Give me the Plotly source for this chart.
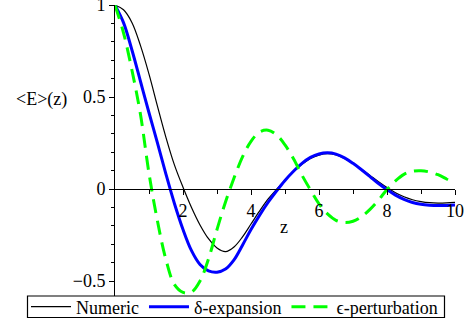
import plotly.graph_objects as go

z = [0, 0.25, 0.5, 0.75, 1.0, 1.25, 1.5, 1.75, 2.0, 2.25, 2.5, 2.75, 3.0, 3.25, 3.5, 3.75,
     4.0, 4.25, 4.5, 4.75, 5.0, 5.25, 5.5, 5.75, 6.0, 6.25, 6.5, 6.75, 7.0, 7.25, 7.5, 7.75,
     8.0, 8.25, 8.5, 8.75, 9.0, 9.25, 9.5, 9.75, 10.0]

numeric = [1.0, 0.975, 0.905, 0.78, 0.625, 0.45, 0.28, 0.13, 0.01, -0.10, -0.195, -0.27,
           -0.32, -0.34, -0.315, -0.26, -0.19, -0.12, -0.055, -0.002, 0.048, 0.095, 0.135, 0.167,
           0.185, 0.192, 0.186, 0.167, 0.14, 0.108, 0.074, 0.04, 0.008, -0.02, -0.042, -0.058,
           -0.068, -0.074, -0.076, -0.075, -0.072]

delta_exp = [1.0, 0.905, 0.755, 0.585, 0.415, 0.25, 0.08, -0.08, -0.22, -0.335, -0.41, -0.445,
             -0.452, -0.435, -0.385, -0.305, -0.22, -0.143, -0.073, -0.011, 0.047, 0.097, 0.14,
             0.172, 0.191, 0.197, 0.19, 0.17, 0.14, 0.105, 0.068, 0.03, -0.003, -0.033, -0.056,
             -0.073, -0.083, -0.088, -0.09, -0.089, -0.087]

eps_pert = [1.0, 0.85, 0.645, 0.405, 0.085, -0.175, -0.385, -0.52, -0.562, -0.56, -0.50, -0.38,
            -0.22, -0.07, 0.06, 0.175, 0.26, 0.31, 0.32, 0.295, 0.24, 0.165, 0.075, -0.005,
            -0.08, -0.135, -0.17, -0.182, -0.175, -0.15, -0.11, -0.06, -0.002, 0.045, 0.08,
            0.097, 0.1, 0.093, 0.078, 0.055, 0.03]

names = ["Numeric", "δ-expansion", "ϵ-perturbation"]
x_ticks = [2, 4, 6, 8, 10]
x_minor = [1, 3, 5, 7, 9]
x_range = [0, 10]
y_range = [-0.5815, 1.001]

FONT = '"Liberation Serif", "Times New Roman", Times, serif'
PLOT_L, PLOT_W, PLOT_B, PLOT_H = 115, 340, 296, 291


def px_x(p):
    return (p - PLOT_L) / PLOT_W


def px_y(p):
    return (PLOT_B - p) / PLOT_H


fig = go.Figure()
fig.add_trace(go.Scatter(x=z, y=numeric, name=names[0], mode="lines",
                         line=dict(color="black", width=1.2, shape="spline")))
fig.add_trace(go.Scatter(x=z, y=delta_exp, name=names[1], mode="lines",
                         line=dict(color="#0000ff", width=3, shape="spline")))
fig.add_trace(go.Scatter(x=z, y=eps_pert, name=names[2], mode="lines",
                         line=dict(color="#00ff00", width=3, shape="spline", dash="14px,8px")))

zero_pos = -y_range[0] / (y_range[1] - y_range[0])

fig.update_layout(
    width=465, height=329, autosize=False,
    margin=dict(l=115, r=10, t=5, b=33, pad=0, autoexpand=False),
    plot_bgcolor="white", paper_bgcolor="white",
    font=dict(family=FONT, size=18, color="black"),
    showlegend=True,
    legend=dict(orientation="h", x=px_x(26), xanchor="left", y=px_y(307), yanchor="middle",
                borderwidth=0, bgcolor="rgba(0,0,0,0)",
                font=dict(family=FONT, size=18, color="black"), itemwidth=40,
                tracegroupgap=0),
    xaxis=dict(range=x_range, showline=True, linecolor="black", linewidth=1,
               ticks="outside", ticklen=5, tickcolor="black", tickvals=x_ticks,
               minor=dict(tickvals=x_minor, ticks="outside", ticklen=4, tickcolor="black", showgrid=False),
               showgrid=False, zeroline=False, anchor="free", position=zero_pos,
               ticklabeloverflow="allow",
               tickfont=dict(family=FONT, size=18, color="black")),
    yaxis=dict(range=y_range, showline=True, linecolor="black", linewidth=1,
               ticks="outside", ticklen=5, tickcolor="black", dtick=0.5, tick0=0,
               minor=dict(dtick=0.1, ticks="outside", ticklen=3.5, tickcolor="black", showgrid=False),
               showgrid=False, zeroline=False, ticklabeloverflow="allow",
               tickfont=dict(family=FONT, size=18, color="black")),
    shapes=[
        dict(type="rect", xref="paper", yref="paper", x0=px_x(27.5), x1=px_x(444.5),
             y0=px_y(317.5), y1=px_y(296), line=dict(color="black", width=1.2),
             fillcolor="rgba(0,0,0,0)", layer="above"),
    ],
    annotations=[
        dict(text="&lt;E&gt;(z)", xref="paper", yref="paper", x=px_x(41), y=px_y(100),
             xanchor="center", yanchor="middle", showarrow=False,
             font=dict(family=FONT, size=18, color="black")),
        dict(text="z", xref="paper", yref="paper", x=px_x(284), y=px_y(227),
             xanchor="center", yanchor="middle", showarrow=False,
             font=dict(family=FONT, size=18, color="black")),
    ],
)

fig.write_html("out.html", config={"displayModeBar": False},
               post_script="document.body.style.margin='0px';document.body.style.padding='0px';")
